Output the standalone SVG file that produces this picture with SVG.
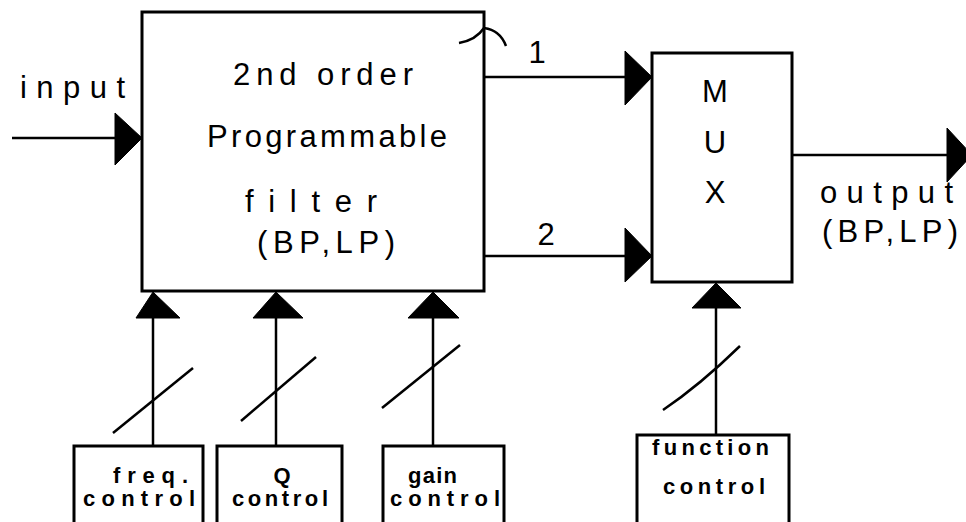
<svg xmlns="http://www.w3.org/2000/svg" width="966" height="522" viewBox="0 0 966 522">
<style>
.box{fill:#fff;stroke:#000;stroke-width:3}
.ln{fill:none;stroke:#000;stroke-width:2.5}
.ah{fill:#000;stroke:#000;stroke-width:1;stroke-linejoin:round}
.t{font-family:"Liberation Sans",Arial,sans-serif;font-size:31px;fill:#000}
.c{font-family:"Liberation Sans",Arial,sans-serif;font-size:22px;font-weight:bold;fill:#000}
</style>
<rect width="966" height="522" fill="#fff"/>
<g id="connectors">
  <line class="ln" x1="12" y1="138" x2="120" y2="138"/>
  <polygon class="ah" points="115,113 142,138 115,165"/>
  <line class="ln" x1="484" y1="77" x2="630" y2="77"/>
  <polygon class="ah" points="625,51 652,77 625,105"/>
  <line class="ln" x1="484" y1="256" x2="630" y2="256"/>
  <polygon class="ah" points="625,228 652,256 625,282"/>
  <line class="ln" x1="792" y1="155" x2="950" y2="155"/>
  <polygon class="ah" points="947,128 972,155 947,182"/>
  <line class="ln" x1="153" y1="445" x2="153" y2="315"/>
  <polygon class="ah" points="136,318 153,292 180,318"/>
  <line class="ln" x1="113" y1="433" x2="193" y2="368"/>
  <line class="ln" x1="276" y1="446" x2="276" y2="315"/>
  <polygon class="ah" points="253,318 276,292 303,318"/>
  <line class="ln" x1="241" y1="421" x2="316" y2="357"/>
  <line class="ln" x1="433" y1="446" x2="433" y2="315"/>
  <polygon class="ah" points="408,318 433,292 459,318"/>
  <line class="ln" x1="382" y1="408" x2="460" y2="345"/>
  <line class="ln" x1="716" y1="435" x2="716" y2="305"/>
  <polygon class="ah" points="692,308 716,283 741,308"/>
  <path class="ln" d="M663,410 Q700,385 740,346"/>
  <text class="t" x="537" y="63" text-anchor="middle">1</text>
  <text class="t" x="546" y="245" text-anchor="middle">2</text>
</g>
<g id="input-label">
  <text class="t" x="20" y="98" textLength="105" lengthAdjust="spacing">input</text>
</g>
<g id="filter">
  <rect class="box" x="142" y="12" width="342" height="279"/>
  <path class="ln" d="M459,43 Q476,40 484,28 Q500,30 506,46" stroke-width="2"/>
  <text class="t" x="233" y="85" textLength="180" lengthAdjust="spacing">2nd order</text>
  <text class="t" x="207" y="147" textLength="240" lengthAdjust="spacing">Programmable</text>
  <text class="t" x="245" y="212" textLength="132" lengthAdjust="spacing">filter</text>
  <text class="t" x="257" y="253" textLength="138" lengthAdjust="spacing">(BP,LP)</text>
</g>
<g id="mux">
  <rect class="box" x="652" y="53" width="140" height="229"/>
  <text class="t" x="715" y="102" text-anchor="middle">M</text>
  <text class="t" x="715" y="153" text-anchor="middle">U</text>
  <text class="t" x="715" y="203" text-anchor="middle">X</text>
</g>
<g id="output-label">
  <text class="t" x="820" y="203" textLength="133" lengthAdjust="spacing">output</text>
  <text class="t" x="822" y="242" textLength="136" lengthAdjust="spacing">(BP,LP)</text>
</g>
<g id="freq-control">
  <rect class="box" x="74" y="446" width="129" height="90"/>
  <text class="c" x="113" y="483" textLength="75" lengthAdjust="spacing">freq.</text>
  <text class="c" x="83" y="506" textLength="112" lengthAdjust="spacing">control</text>
</g>
<g id="q-control">
  <rect class="box" x="217" y="446" width="125" height="90"/>
  <text class="c" x="282" y="483" text-anchor="middle">Q</text>
  <text class="c" x="232" y="506" textLength="96" lengthAdjust="spacing">control</text>
</g>
<g id="gain-control">
  <rect class="box" x="383" y="446" width="121" height="90"/>
  <text class="c" x="408" y="483" textLength="49" lengthAdjust="spacing">gain</text>
  <text class="c" x="390" y="506" textLength="110" lengthAdjust="spacing">control</text>
</g>
<g id="function-control">
  <rect class="box" x="637" y="435" width="152" height="100"/>
  <text class="c" x="652" y="455" textLength="117" lengthAdjust="spacing">function</text>
  <text class="c" x="663" y="494" textLength="102" lengthAdjust="spacing">control</text>
</g>
</svg>
